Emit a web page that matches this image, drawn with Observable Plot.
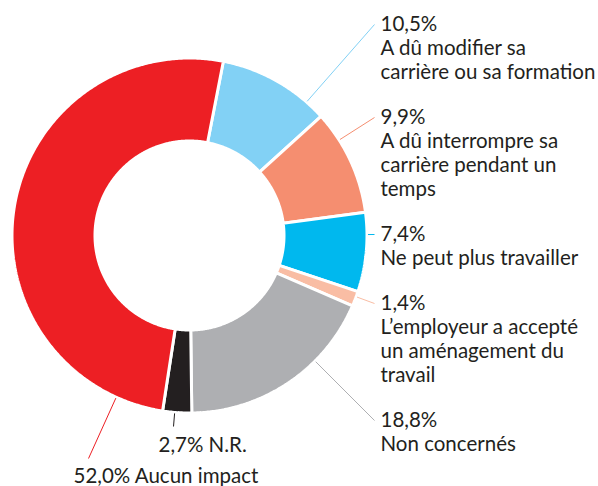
<!DOCTYPE html>
<html><head><meta charset="utf-8">
<script src="https://cdn.jsdelivr.net/npm/d3@7"></script>
<script src="https://cdn.jsdelivr.net/npm/@observablehq/plot@0.6"></script>
<style>html,body{margin:0;padding:0;background:#fff}</style>
</head><body><div id="chart"></div>
<script>
// ---- data ----
const categories = [
  "A dû modifier sa carrière ou sa formation",
  "A dû interrompre sa carrière pendant un temps",
  "Ne peut plus travailler",
  "L’employeur a accepté un aménagement du travail",
  "Non concernés",
  "N.R.",
  "Aucun impact"
];
const values = [10.5, 9.9, 7.4, 1.4, 18.8, 2.7, 52.0];
const valueLabels = ["10,5%", "9,9%", "7,4%", "1,4%", "18,8%", "2,7%", "52,0%"];
const labelLines = [
  ["A dû modifier sa", "carrière ou sa formation"],
  ["A dû interrompre sa", "carrière pendant un", "temps"],
  ["Ne peut plus travailler"],
  ["L’employeur a accepté", "un aménagement du", "travail"],
  ["Non concernés"],
  ["N.R."],
  ["Aucun impact"]
];
const colors = ["#82d1f5", "#f58e70", "#00b8ee", "#f9bda4", "#aeafb2", "#231f20", "#ed1f24"];

// ---- layout (pixels) ----
const W = 598, H = 486;
const cx = 189, cy = 235, R = 176;          // donut centre and visible outer radius
const u = v => v / R;                       // px -> radius units
const outerR = u(177.5), innerR = u(94.5);
const startDeg = 11;
const fontSize = 20.5, lineH = 24, blockGap = 21;
const rightX = 380, rightTop = 30;
const bottomLabels = [ {i: 5, x: 158, baseline: 451, lx: 15, ly: 25},
                       {i: 6, x: 73, baseline: 482, lx: 15, ly: 24} ];

// ---- slices ----
const rows = categories.map((c, i) => ({category: c, value: values[i]}));
const a0 = startDeg * Math.PI / 180;
const arcs = d3.pie().sort(null).value(d => d.value).startAngle(a0).endAngle(a0 + 2 * Math.PI)(rows);
const polyPts = [];
arcs.forEach(a => {
  const n = Math.max(2, Math.ceil((a.endAngle - a.startAngle) / (Math.PI / 360)));
  const pts = [];
  for (let k = 0; k <= n; k++) { const t = a.startAngle + (a.endAngle - a.startAngle) * k / n; pts.push([Math.sin(t) * outerR, Math.cos(t) * outerR]); }
  for (let k = n; k >= 0; k--) { const t = a.startAngle + (a.endAngle - a.startAngle) * k / n; pts.push([Math.sin(t) * innerR, Math.cos(t) * innerR]); }
  pts.push(pts[0]);
  pts.forEach(p => polyPts.push({category: a.data.category, x: p[0], y: p[1]}));
});

// ---- labels ----
const toX = px => u(px - cx), toY = py => u(cy - py);
const textRows = [], leaders = [];
let base = rightTop;
for (let i = 0; i < 5; i++) {
  const lines = [valueLabels[i], ...labelLines[i]];
  lines.forEach((t, k) => textRows.push({x: toX(rightX), y: toY(base + k * lineH), text: t}));
  leaders.push({category: categories[i], ex: toX(rightX - 6), ey: toY(base - 6)});
  base += (lines.length - 1) * lineH + lineH + blockGap;
}
bottomLabels.forEach(b => {
  textRows.push({x: toX(b.x), y: toY(b.baseline), text: valueLabels[b.i] + " " + labelLines[b.i].join(" ")});
  leaders.push({category: categories[b.i], ex: toX(b.x + b.lx), ey: toY(b.baseline - b.ly)});
});
leaders.forEach(l => {
  const d = Math.hypot(l.ex, l.ey);
  l.sx = l.ex / d * u(178.5); l.sy = l.ey / d * u(178.5);
});

const chart = Plot.plot({
  width: W, height: H, margin: 0,
  x: {domain: [toX(0), toX(W)], axis: null},
  y: {domain: [toY(H), toY(0)], axis: null},
  color: {domain: categories, range: colors},
  style: {fontFamily: "Lato, sans-serif", background: "#fff"},
  marks: [
    Plot.line(polyPts, {x: "x", y: "y", z: "category", fill: "category", stroke: "white", strokeWidth: 3, strokeLinejoin: "miter", curve: "linear"}),
    Plot.link(leaders, {x1: "sx", y1: "sy", x2: "ex", y2: "ey", stroke: "category", strokeWidth: 1}),
    Plot.text(textRows, {x: "x", y: "y", text: "text", textAnchor: "start", lineAnchor: "bottom", fontSize: fontSize, fill: "#231f20"})
  ]
});
document.getElementById("chart").appendChild(chart);
</script>
</body></html>
